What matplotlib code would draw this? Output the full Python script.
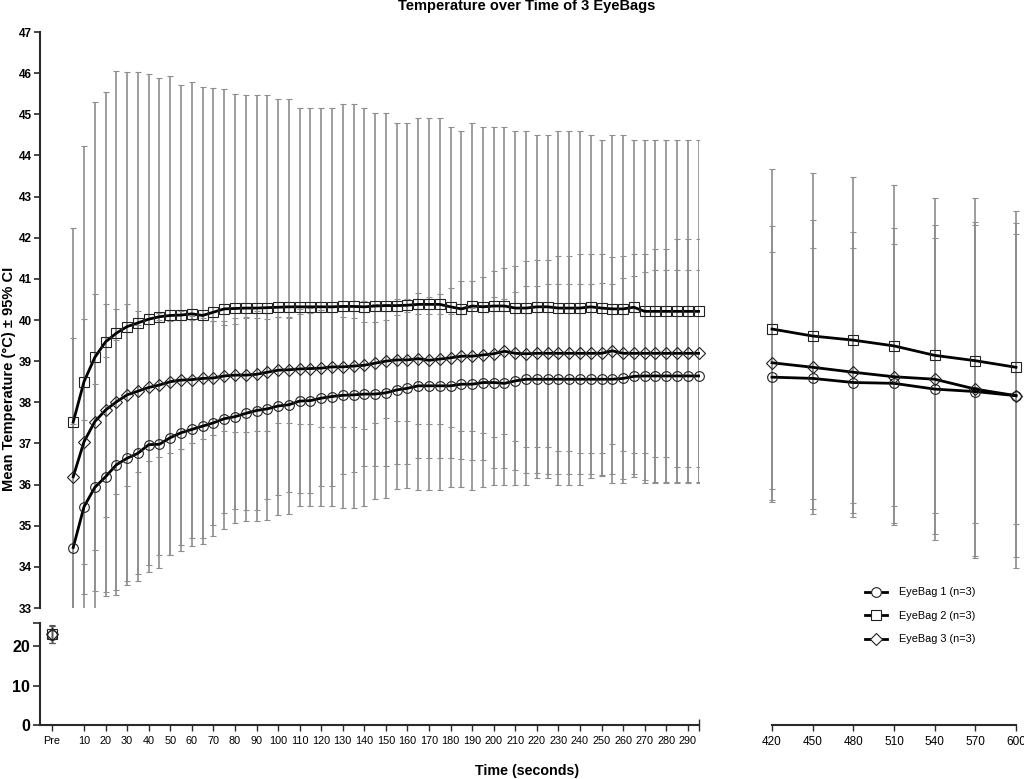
import matplotlib
matplotlib.use("Agg")
import matplotlib.pyplot as plt
from matplotlib.lines import Line2D
import numpy as np

plt.rcParams['font.family'] = ['Liberation Sans', 'DejaVu Sans']

# ---------------- data ----------------
times = list(range(5, 300, 5))  # 5..295 s

eb1_mean = [34.47, 35.46, 35.93, 36.19, 36.48, 36.64, 36.76, 36.97, 36.98, 37.14,
            37.26, 37.34, 37.42, 37.50, 37.60, 37.65, 37.73, 37.80, 37.84, 37.91,
            37.94, 38.03, 38.04, 38.10, 38.14, 38.17, 38.18, 38.20, 38.20, 38.23,
            38.30, 38.34, 38.40, 38.40, 38.40, 38.40, 38.44, 38.44, 38.48, 38.48,
            38.46, 38.52, 38.56, 38.56, 38.56, 38.56, 38.56, 38.56, 38.56, 38.56,
            38.56, 38.58, 38.63, 38.64, 38.64, 38.64, 38.64, 38.64, 38.64]
eb1_ci = [3.00, 2.12, 2.51, 2.91, 3.04, 3.08, 3.11, 3.09, 3.01, 2.84,
          2.87, 2.65, 2.73, 2.48, 2.28, 2.25, 2.35, 2.43, 2.18, 2.16,
          2.11, 2.24, 2.25, 2.14, 2.18, 1.91, 1.88, 1.75, 1.75, 1.78,
          1.81, 1.85, 1.75, 1.75, 1.75, 1.75, 1.82, 1.84, 1.88, 2.07,
          2.05, 2.17, 2.27, 2.27, 2.31, 2.31, 2.31, 2.31, 2.31, 2.33,
          2.31, 2.45, 2.45, 2.53, 2.57, 2.57, 2.57, 2.57, 2.57]

eb2_mean = [37.52, 38.50, 39.09, 39.47, 39.68, 39.84, 39.93, 40.02, 40.08, 40.11,
            40.12, 40.15, 40.11, 40.19, 40.27, 40.28, 40.29, 40.29, 40.30, 40.31,
            40.32, 40.32, 40.32, 40.32, 40.32, 40.33, 40.33, 40.32, 40.34, 40.35,
            40.35, 40.36, 40.38, 40.38, 40.38, 40.32, 40.27, 40.34, 40.32, 40.34,
            40.34, 40.29, 40.29, 40.32, 40.32, 40.29, 40.29, 40.29, 40.32, 40.29,
            40.27, 40.27, 40.31, 40.21, 40.21, 40.21, 40.21, 40.21, 40.21]
eb2_ci = [4.71, 5.73, 6.20, 6.08, 6.37, 6.18, 6.10, 5.97, 5.79, 5.83,
          5.58, 5.64, 5.55, 5.44, 5.34, 5.22, 5.18, 5.18, 5.17, 5.05,
          5.04, 4.83, 4.83, 4.83, 4.83, 4.91, 4.91, 4.83, 4.68, 4.67,
          4.45, 4.44, 4.52, 4.52, 4.52, 4.37, 4.32, 4.46, 4.37, 4.35,
          4.35, 4.30, 4.30, 4.17, 4.17, 4.30, 4.30, 4.30, 4.17, 4.08,
          4.22, 4.22, 4.06, 4.16, 4.16, 4.16, 4.16, 4.16, 4.16]

eb3_mean = [36.19, 37.04, 37.53, 37.81, 38.01, 38.18, 38.27, 38.36, 38.42, 38.50,
            38.54, 38.55, 38.58, 38.59, 38.64, 38.66, 38.66, 38.68, 38.73, 38.78,
            38.79, 38.81, 38.82, 38.83, 38.86, 38.86, 38.88, 38.90, 38.95, 39.00,
            39.03, 39.03, 39.06, 39.02, 39.05, 39.08, 39.12, 39.12, 39.15, 39.18,
            39.24, 39.19, 39.18, 39.19, 39.19, 39.19, 39.19, 39.19, 39.19, 39.19,
            39.25, 39.19, 39.19, 39.19, 39.19, 39.19, 39.19, 39.19, 39.19]
eb3_ci = [3.38, 2.98, 3.11, 2.59, 2.25, 2.21, 1.96, 1.79, 1.74, 1.74,
          1.68, 1.55, 1.48, 1.39, 1.34, 1.38, 1.38, 1.38, 1.43, 1.29,
          1.29, 1.34, 1.35, 1.42, 1.45, 1.45, 1.47, 1.56, 1.45, 1.39,
          1.48, 1.48, 1.59, 1.55, 1.58, 1.69, 1.83, 1.83, 1.89, 2.02,
          2.02, 2.13, 2.26, 2.27, 2.27, 2.37, 2.37, 2.42, 2.42, 2.42,
          2.27, 2.37, 2.42, 2.42, 2.53, 2.53, 2.77, 2.77, 2.77]

late_times = [420, 450, 480, 510, 540, 570, 600]
eb1_late = [38.61, 38.58, 38.48, 38.46, 38.32, 38.26, 38.16]
eb1_late_ci = [3.04, 3.18, 3.26, 3.39, 3.68, 4.04, 3.93]
eb2_late = [39.78, 39.61, 39.51, 39.37, 39.14, 39.01, 38.85]
eb2_late_ci = [3.88, 3.96, 3.96, 3.90, 3.82, 3.95, 3.81]
eb3_late = [38.96, 38.85, 38.73, 38.62, 38.56, 38.32, 38.16]
eb3_late_ci = [3.33, 3.57, 3.42, 3.61, 3.76, 4.06, 4.20]

pre_mean = [23.0, 23.2, 23.1]
pre_ci = [2.2, 2.3, 2.2]

labels = ['EyeBag 1 (n=3)', 'EyeBag 2 (n=3)', 'EyeBag 3 (n=3)']
markers = ['o', 's', 'D']
msizes = [7, 7, 6]

x_ticks = [-5] + list(range(10, 300, 10))
x_ticklabels = ['Pre'] + [str(v) for v in range(10, 300, 10)]
late_ticks = [420, 450, 480, 510, 540, 570, 600]

# ---------------- layout ----------------
W, H = 1024, 779
fig = plt.figure(figsize=(W / 100, H / 100), dpi=100)


def rect(x0, y0, x1, y1):
    return [x0 / W, 1 - y1 / H, (x1 - x0) / W, (y1 - y0) / H]


ax_top = fig.add_axes(rect(40, 32, 699, 608))
ax_bot = fig.add_axes(rect(40, 623, 699, 725))
ax_r = fig.add_axes(rect(772, 32, 1016, 725))

ERR_C = '#8e8e8e'
SPINE_C = '#2a2a2a'

series = [(eb1_mean, eb1_ci, eb1_late, eb1_late_ci),
          (eb2_mean, eb2_ci, eb2_late, eb2_late_ci),
          (eb3_mean, eb3_ci, eb3_late, eb3_late_ci)]

for m, c, ml, cl in series:
    ax_top.errorbar(times, m, yerr=c, fmt='none', ecolor=ERR_C, elinewidth=1.2,
                    capsize=2, capthick=0.8, zorder=1)
    ax_r.errorbar(late_times, ml, yerr=cl, fmt='none', ecolor=ERR_C, elinewidth=1.2,
                  capsize=2, capthick=0.8, zorder=1, clip_on=False)

for (m, c, ml, cl), mk, ms in zip(series, markers, msizes):
    ax_top.plot(times, m, color='black', lw=2, marker=mk, ms=ms, mfc='none',
                mec='#222222', mew=0.8, zorder=3, clip_on=False)
    ax_r.plot(late_times, ml, color='black', lw=2, marker=mk, ms=ms, mfc='none',
              mec='#222222', mew=0.8, zorder=3, clip_on=False)

for pm, pc, mk, ms in zip(pre_mean, pre_ci, markers, msizes):
    ax_bot.errorbar([-5], [pm], yerr=[pc], fmt=mk, ms=ms, mfc='none', mec='#222222',
                    mew=0.8, ecolor='#555555', elinewidth=1.0, capsize=2, capthick=0.8,
                    clip_on=False)

# ---------------- axes styling ----------------
xmin, xmax = -10.4, 295.2
for ax in (ax_top, ax_bot):
    ax.set_xlim(xmin, xmax)
    ax.set_facecolor('none')
    for s in ('top', 'right'):
        ax.spines[s].set_visible(False)
    ax.spines['left'].set_color(SPINE_C)
    ax.spines['left'].set_linewidth(1.5)

ax_top.set_ylim(33, 47)
ax_top.spines['bottom'].set_visible(False)
ax_top.set_xticks([])
ax_top.set_yticks(range(33, 48))
ax_top.set_yticklabels([str(v) for v in range(33, 48)], fontsize=8.5, fontweight='bold')
ax_top.tick_params(axis='y', length=4, width=1.2, color=SPINE_C, pad=2)

ax_bot.set_ylim(0, 25.95)
ax_bot.set_yticks([0, 10, 20, 25.95])
ax_bot.set_yticklabels(['0', '10', '20', ''], fontsize=11.5, fontweight='bold')
ax_bot.tick_params(axis='y', length=5, width=1.2, color=SPINE_C, pad=2)
ax_bot.spines['bottom'].set_color(SPINE_C)
ax_bot.spines['bottom'].set_linewidth(1.5)
ax_bot.set_xticks(x_ticks)
ax_bot.set_xticklabels(x_ticklabels, fontsize=7.8)
ax_bot.tick_params(axis='x', length=4, width=1.0, color=SPINE_C, pad=4)
ax_bot.set_xticks([xmax], minor=True)
ax_bot.tick_params(axis='x', which='minor', direction='inout', length=9, width=1.0, color=SPINE_C)

ax_r.set_xlim(420, 600)
ax_r.set_ylim(47 - 693 / 41.14, 47)
ax_r.set_facecolor('none')
for s in ('top', 'right', 'left'):
    ax_r.spines[s].set_visible(False)
ax_r.spines['bottom'].set_color(SPINE_C)
ax_r.spines['bottom'].set_linewidth(1.5)
ax_r.set_yticks([])
ax_r.set_xticks(late_ticks)
ax_r.set_xticklabels([str(v) for v in late_ticks], fontsize=8.5)
ax_r.tick_params(axis='x', length=4, width=1.0, color=SPINE_C, pad=4)
ax_r.set_xticks([420], minor=True)
ax_r.tick_params(axis='x', which='minor', direction='inout', length=9, width=1.0, color=SPINE_C)

# ---------------- texts ----------------
fig.text(527 / W, 1 - 6 / H, 'Temperature over Time of 3 EyeBags', ha='center', va='center',
         fontsize=10.5, fontweight='bold')
fig.text(527 / W, 1 - 771 / H, 'Time (seconds)', ha='center', va='center',
         fontsize=10.3, fontweight='bold')
fig.text(9 / W, 1 - 379 / H, 'Mean Temperature (\u00b0C) \u00b1 95% CI', ha='center', va='center',
         rotation=90, fontsize=10.5, fontweight='bold')

handles = [Line2D([], [], color='black', lw=2, marker=mk, ms=ms, mfc='white', mec='#222222', mew=0.8)
           for mk, ms in zip(markers, msizes)]
fig.legend(handles, labels, loc='upper left', bbox_to_anchor=(860 / W, 1 - 582 / H),
           frameon=False, fontsize=7.8, handlelength=2.0, handletextpad=1.1,
           labelspacing=1.25, borderpad=0)

fig.savefig('out.png', dpi=100)
